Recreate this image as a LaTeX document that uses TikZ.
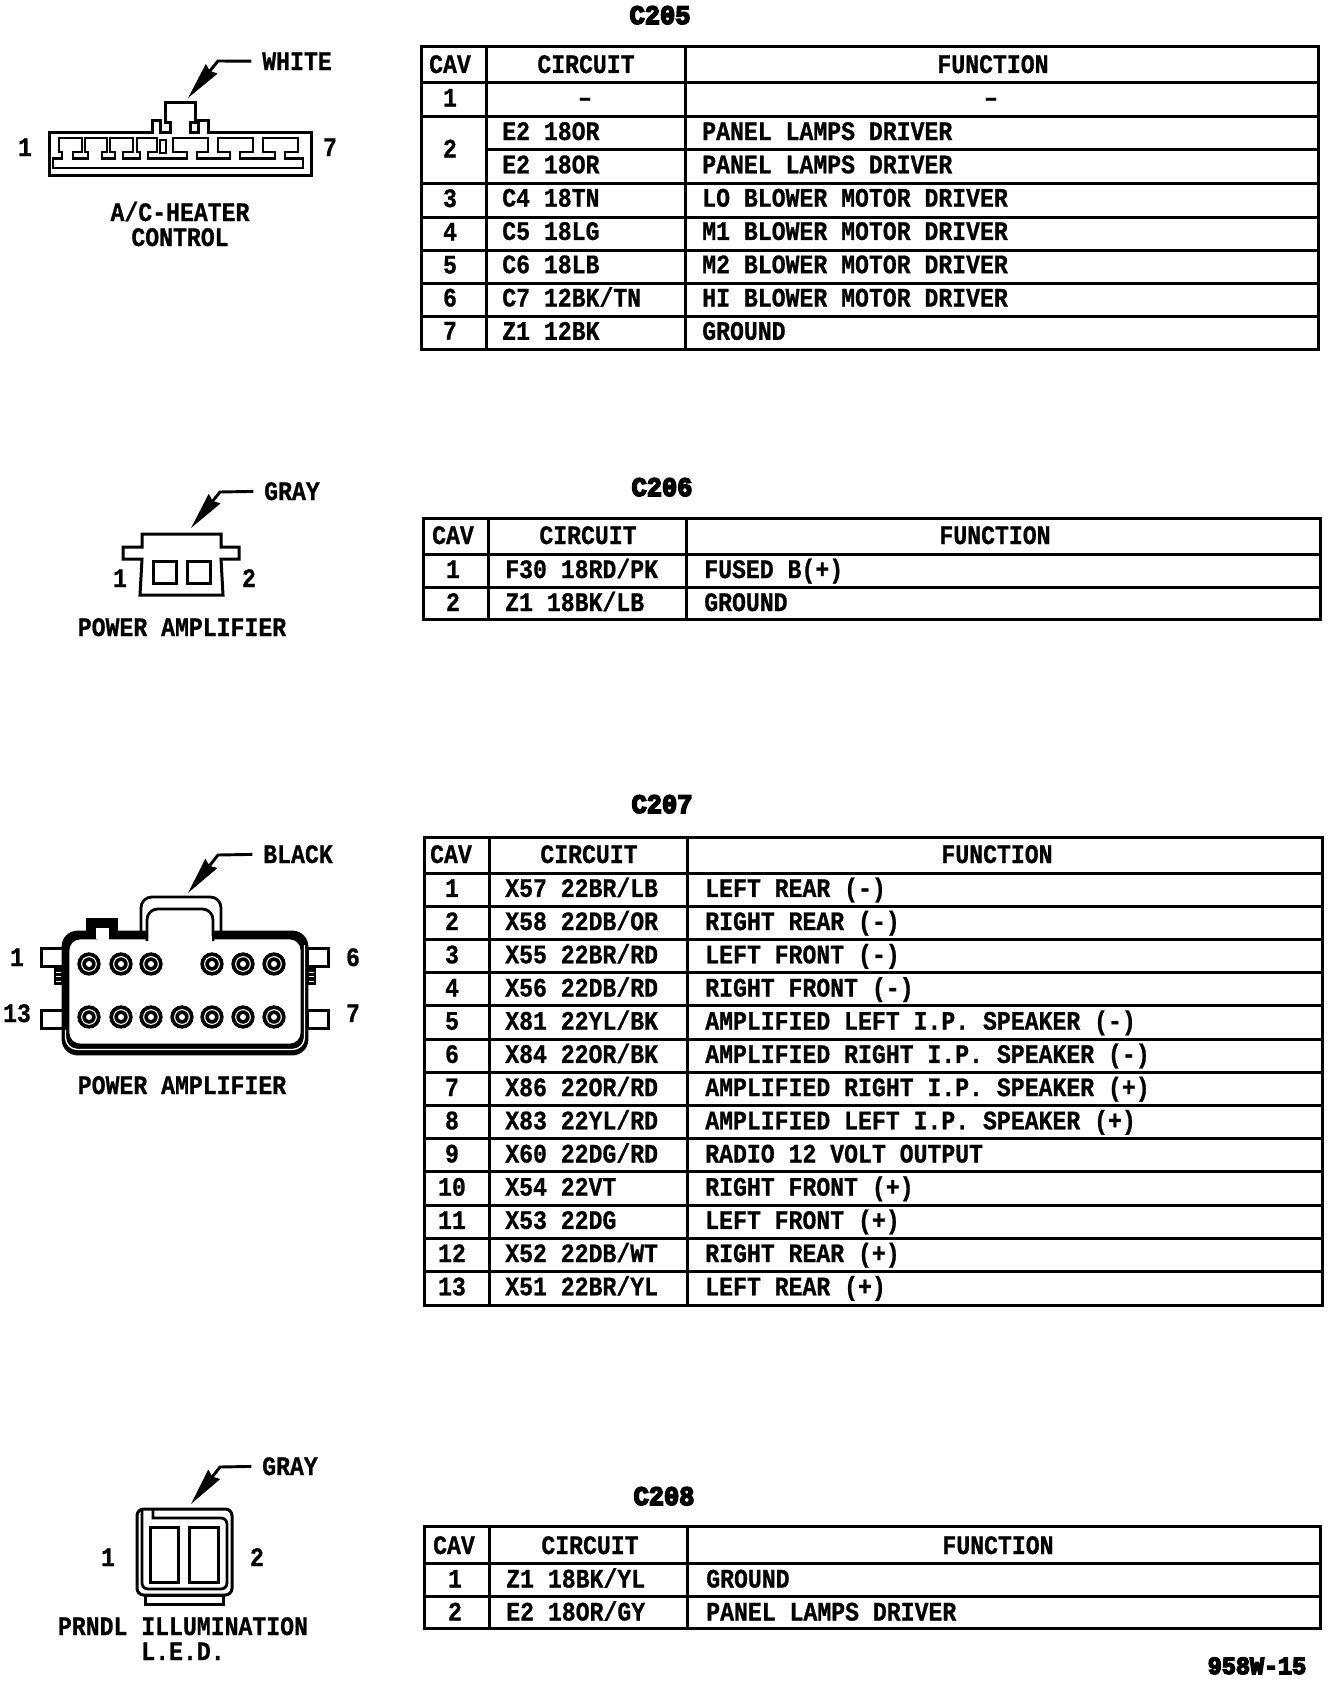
\documentclass[tikz,border=0pt]{standalone}
\usepackage{fontspec}
\setmainfont[FakeStretch=0.868,BoldFeatures={FakeStretch=0.868,FakeBold=0.8}]{Liberation Mono}
\newfontfamily\heavyfont[FakeStretch=0.95,BoldFeatures={FakeStretch=0.95,FakeBold=6}]{Liberation Mono}
\usetikzlibrary{arrows.meta}
\usetikzlibrary{positioning}

\tikzset{
	lbl/.style = {inner sep=0pt, anchor=base, font=\fontsize{20}{24}\selectfont\bfseries},
	lftlbl/.style = {lbl, anchor=base west},
	ttl/.style = {inner sep=0pt, anchor=base, font=\fontsize{20}{24}\selectfont\heavyfont\bfseries},
	wire/.style = {line width=2.25pt, line join=miter},
	thin wire/.style = {line width=2.1pt},
	leader/.style = {line width=2.2pt, shorten <=8pt, -{Stealth[length=28pt,width=11pt,inset=2pt]}},
	pin/.style = {circle, draw, fill=white, inner sep=0pt, minimum size=11pt, line width=2.8pt, double=white, double distance=.8pt},
}

\begin{document}
\begin{tikzpicture}[x=.75pt, y=-.75pt]
\useasboundingbox (0,0) rectangle (1344,1684);

% A/C heater connector
\node[lbl] (whitelbl) at (297,70) {WHITE};
\coordinate (bendw) at (218,61);
\coordinate (tipw) at (188,98);
\draw[leader] (whitelbl.west) -- (bendw) -- (tipw);
\draw[wire] (49,132) -- (152,132) -- (152,120) -- (160,120) -- (160,132) -- (170,132) -- (170,122) -- (165,122) -- (165,102) -- (195,102) -- (195,122) -- (190,122) -- (190,132) -- (198,132) -- (198,120) -- (208,120) -- (208,132) -- (311,132) -- (311,175) -- (49,175) -- cycle;
\draw[thin wire] (53,168) -- (53,158.5) -- (62,158.5) -- (62,152) -- (59,152) -- (59,138) -- (82,138) -- (82,152) -- (73,152) -- (73,158.5) -- (88,158.5) -- (88,152) -- (85,152) -- (85,138) -- (107,138) -- (107,152) -- (102,152) -- (102,158.5) -- (115,158.5) -- (115,152) -- (110,152) -- (110,138) -- (133,138) -- (133,152) -- (123,152) -- (123,158.5) -- (140,158.5) -- (140,152) -- (137,152) -- (137,138) -- (157,138) -- (157,152) -- (148,152) -- (148,158.5) -- (187,158.5) -- (187,152) -- (173,152) -- (173,138) -- (208,138) -- (208,152) -- (197,152) -- (197,158.5) -- (230,158.5) -- (230,152) -- (218,152) -- (218,138) -- (253,138) -- (253,152) -- (240,152) -- (240,158.5) -- (275,158.5) -- (275,152) -- (263,152) -- (263,138) -- (298,138) -- (298,152) -- (285,152) -- (285,158.5) -- (303,158.5) -- (303,168) -- cycle;
\draw[thin wire] (160,140) rectangle (166,153);
\node[lbl] (ac1) at (25,156) {1};
\node[lbl] (ac7) at (330,156) {7};
\node[lbl] (acname) at (180,221) {A/C-HEATER};
\node[lbl] (acctrl) at (180,246) {CONTROL};

% two pin power amplifier
\node[lbl] (graya) at (292,500) {GRAY};
\coordinate (benda) at (220,492);
\coordinate (tipa) at (191,528);
\draw[leader] (graya.west) -- (benda) -- (tipa);
\draw[wire] (142,534) -- (221,534) -- (221,547) -- (239,547) -- (239,559) -- (221,559) -- (223,595) -- (140,595) -- (142,559) -- (123,559) -- (123,547) -- (142,547) -- cycle;
\draw[wire] (153,561) rectangle (176,583);
\draw[wire] (187,561) rectangle (210,583);
\node[lbl] (pa1) at (120,587) {1};
\node[lbl] (pa2) at (249,587) {2};
\node[lbl] (paname) at (182,636) {POWER AMPLIFIER};

% thirteen pin power amplifier
\node[lbl] (blacklbl) at (298,863) {BLACK};
\coordinate (bendb) at (218,855);
\coordinate (tipb) at (188,893);
\draw[leader] (blacklbl.west) -- (bendb) -- (tipb);
\draw[wire] (41,948) rectangle (63,966);
\draw[wire] (41,1010) rectangle (63,1028);
\draw[wire] (307,948) rectangle (328,966);
\draw[wire] (307,1010) rectangle (328,1028);
\foreach \x in {54,307} {
	\fill (\x,968) rectangle (\x+9,985);
	\foreach \y in {972,976.5,981}
		\draw[white, line width=.7pt] (\x+2,\y) -- (\x+7,\y);
}
\fill (86,918) rectangle (118,940);
\draw[thin wire, fill=white, rounded corners=8pt] (141,940) -- (141,897) -- (221,897) -- (221,940);
\draw[thin wire, fill=black, rounded corners=11pt] (63,932) rectangle (307,1054);
\draw[thin wire, fill=white, rounded corners=9pt] (68,938) rectangle (302,1045);
\draw[thin wire, fill=white, rounded corners=8pt] (147,941) -- (147,909) -- (213,909) -- (213,941);
\draw[draw=none, fill=white] (148.5,936) rectangle (211.5,941);
\draw[thin wire, fill=white] (95,939.3) -- (95,927) -- (110,927) -- (110,939.3);
\fill[white] (96.5,936) rectangle (108.5,941);
\draw[white, line width=1pt, rounded corners=9pt] (65.5,1030) -- (65.5,1049.5) -- (304.5,1049.5) -- (304.5,945);
\foreach \x [count=\i] in {89,121,151,212,243,274}
	\node[pin] (pint\i) at (\x,964) {};
\foreach \x [count=\i] in {89,121,151,182,212,243,274}
	\node[pin] (pinb\i) at (\x,1017) {};
\node[lbl] (amp1) at (17,966) {1};
\node[lbl] (amp13) at (17,1022) {13};
\node[lbl] (amp6) at (353,966) {6};
\node[lbl] (amp7) at (353,1022) {7};
\node[lbl] (ampname) at (182,1094) {POWER AMPLIFIER};

% prndl connector
\node[lbl] (grayb) at (290,1475) {GRAY};
\coordinate (bendc) at (220,1467);
\coordinate (tipc) at (191,1504);
\draw[leader] (grayb.west) -- (bendc) -- (tipc);
\draw[wire] (145,1595) rectangle (223,1604);
\draw[wire, fill=white, rounded corners=5pt] (137,1509) rectangle (232,1595);
\draw[thin wire] (153,1510) -- (153,1518) -- (221,1518) arc (-90:0:6) -- (227,1583) arc (0:90:6) -- (148,1589) arc (90:180:6) -- (142,1510);
\draw[wire] (150,1527) rectangle (178,1582);
\draw[wire] (189,1527) rectangle (218,1582);
\node[lbl] (led1) at (108,1566) {1};
\node[lbl] (led2) at (257,1566) {2};
\node[lbl] (ledname) at (183,1635) {PRNDL ILLUMINATION};
\node[lbl] (ledsub) at (183,1660) {L.E.D.};

% table C205
\node[ttl] (c205) at (660,24) {C205};
\draw[wire] (421,47) rectangle (1318,349);
\foreach \y in {83,116,183,217,250,283,316}
	\draw[wire] (421,\y) -- (1318,\y);
\draw[wire] (486,149) -- (1318,149);
\draw[wire] (486,47) -- (486,349);
\draw[wire] (685,47) -- (685,349);
\node[lbl] (h205a) at (450,73) {CAV};
\node[lbl] (h205b) at (586,73) {CIRCUIT};
\node[lbl] (h205c) at (993,73) {FUNCTION};
\foreach \cav/\y in {1/106.5,2/157.5,3/207,4/240.5,5/273.5,6/306.5,7/339.5}
	\node[lbl] (cav205\cav) at (450,\y) {\cav};
\node[lbl] (cir205o) at (585,106) {\textendash};
\node[lbl] (fnc205o) at (991,106) {\textendash};
\foreach \cir/\fnc [count=\i from 0, evaluate=\i as \y using 140+33.3*\i] in {
	E2 18OR/PANEL LAMPS DRIVER, E2 18OR/PANEL LAMPS DRIVER, C4 18TN/LO BLOWER MOTOR DRIVER,
	C5 18LG/M1 BLOWER MOTOR DRIVER, C6 18LB/M2 BLOWER MOTOR DRIVER,
	{C7 12BK/TN}/HI BLOWER MOTOR DRIVER, Z1 12BK/GROUND} {
	\node[lftlbl] (cir205\i) at (502,\y) {\cir};
	\node[lftlbl] (fnc205\i) at (702,\y) {\fnc};
}

% table C206
\node[ttl] (c206) at (662,496) {C206};
\draw[wire] (423,518) rectangle (1320,619);
\foreach \y in {554,587}
	\draw[wire] (423,\y) -- (1320,\y);
\draw[wire] (488,518) -- (488,619);
\draw[wire] (686,518) -- (686,619);
\node[lbl] (h206a) at (453,544) {CAV};
\node[lbl] (h206b) at (588,544) {CIRCUIT};
\node[lbl] (h206c) at (995,544) {FUNCTION};
\foreach \cav/\cir/\fnc [count=\i from 0, evaluate=\i as \y using 578+33*\i] in {
	1/{F30 18RD/PK}/FUSED B(+), 2/{Z1 18BK/LB}/GROUND} {
	\node[lbl] (cav206\cav) at (453,\y) {\cav};
	\node[lftlbl] (cir206\i) at (505,\y) {\cir};
	\node[lftlbl] (fnc206\i) at (704,\y) {\fnc};
}

% table C207
\node[ttl] (c207) at (662,813) {C207};
\draw[wire] (424,837.5) rectangle (1322,1305);
\foreach \i in {0,...,12}
	\draw[wire] (424,{873+33.2*\i}) -- (1322,{873+33.2*\i});
\draw[wire] (489,837.5) -- (489,1305);
\draw[wire] (687,837.5) -- (687,1305);
\node[lbl] (h207a) at (451,863) {CAV};
\node[lbl] (h207b) at (589,863) {CIRCUIT};
\node[lbl] (h207c) at (997,863) {FUNCTION};
\foreach \cir/\fnc [count=\i from 1, evaluate=\i as \y using 863.7+33.2*\i] in {
	{X57 22BR/LB}/LEFT REAR (-), {X58 22DB/OR}/RIGHT REAR (-), {X55 22BR/RD}/LEFT FRONT (-),
	{X56 22DB/RD}/RIGHT FRONT (-), {X81 22YL/BK}/AMPLIFIED LEFT I.P. SPEAKER (-),
	{X84 22OR/BK}/AMPLIFIED RIGHT I.P. SPEAKER (-), {X86 22OR/RD}/AMPLIFIED RIGHT I.P. SPEAKER (+),
	{X83 22YL/RD}/AMPLIFIED LEFT I.P. SPEAKER (+), {X60 22DG/RD}/RADIO 12 VOLT OUTPUT,
	X54 22VT/RIGHT FRONT (+), X53 22DG/LEFT FRONT (+), {X52 22DB/WT}/RIGHT REAR (+),
	{X51 22BR/YL}/LEFT REAR (+)} {
	\node[lbl] (cav207\i) at (452,\y) {\i};
	\node[lftlbl] (cir207\i) at (505,\y) {\cir};
	\node[lftlbl] (fnc207\i) at (705,\y) {\fnc};
}

% table C208
\node[ttl] (c208) at (664,1505) {C208};
\draw[wire] (424,1526) rectangle (1320,1628);
\foreach \y in {1563,1596}
	\draw[wire] (424,\y) -- (1320,\y);
\draw[wire] (489,1526) -- (489,1628);
\draw[wire] (687.5,1526) -- (687.5,1628);
\node[lbl] (h208a) at (454,1554) {CAV};
\node[lbl] (h208b) at (590,1554) {CIRCUIT};
\node[lbl] (h208c) at (998,1554) {FUNCTION};
\foreach \cav/\cir/\fnc [count=\i from 0, evaluate=\i as \y using 1587.5+33*\i] in {
	1/{Z1 18BK/YL}/GROUND, 2/{E2 18OR/GY}/PANEL LAMPS DRIVER} {
	\node[lbl] (cav208\cav) at (455,\y) {\cav};
	\node[lftlbl] (cir208\i) at (506,\y) {\cir};
	\node[lftlbl] (fnc208\i) at (706,\y) {\fnc};
}

\node[ttl, font=\fontsize{18.5}{22}\selectfont\heavyfont\bfseries] (figno) at (1257,1674) {958W-15};
\end{tikzpicture}
\end{document}
